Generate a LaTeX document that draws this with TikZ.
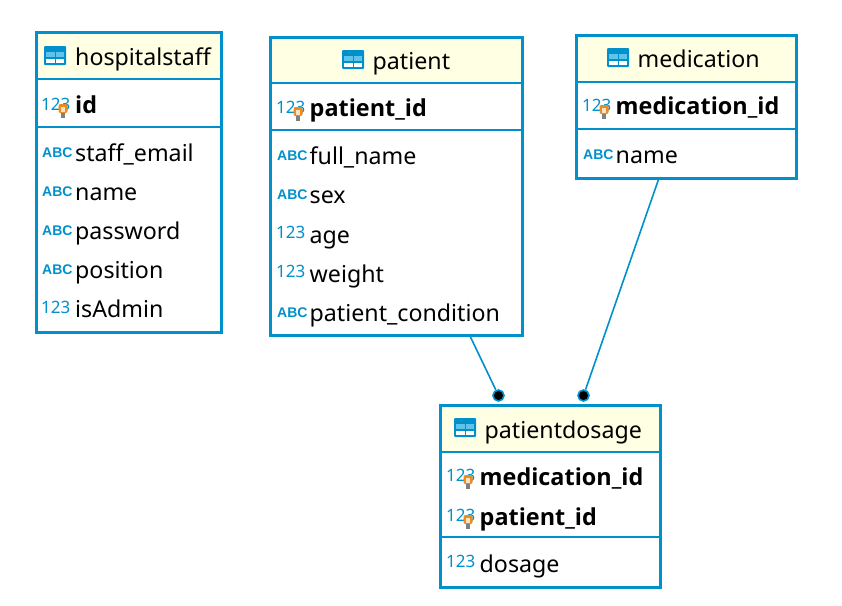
\documentclass[tikz,border=0pt]{standalone}
\usepackage{fontspec}
\setmainfont{Noto Sans}
\newfontfamily\iconfont{Liberation Sans}
\newfontfamily\keyfont{Open Sans}
\definecolor{erblue}{RGB}{0,145,205}
\definecolor{erhead}{RGB}{255,255,228}
\definecolor{erlight}{RGB}{95,195,235}
\definecolor{erkey}{RGB}{235,140,30}
\newcommand{\fsz}{\fontsize{23.2}{28}\selectfont}
\newcommand{\ksz}{\fontsize{23.4}{28}\selectfont}
\newcommand{\ifsz}{\fontsize{17}{20}\selectfont}
% table icon at left x, top y
\newcommand{\tblicon}[2]{%
  \begin{scope}[shift={(#1,#2)}]
    \fill[erblue,rounded corners=1pt] (0,0) rectangle (22,19);
    \fill[erlight] (2,6) rectangle (10.5,11);
    \fill[erlight] (11.5,6) rectangle (20,11);
    \fill[white] (2,12.5) rectangle (10.5,17);
    \fill[white] (11.5,12.5) rectangle (20,17);
  \end{scope}}
% key icon centred at x,y
\newcommand{\keyicon}[2]{%
  \begin{scope}[shift={(#1,#2)}]
    \fill[erkey,rounded corners=2pt] (-4.5,-6) rectangle (4.5,3);
    \fill[white!75!erkey] (-1.7,-3.5) rectangle (1.7,2);
    \fill[gray] (-1.7,3) rectangle (1.7,8);
  \end{scope}}
\newcommand{\numicon}[3]{\node[icontext,text=erblue] (#1) at (#2,#3) {\ifsz 123};}
\newcommand{\abcicon}[3]{\node[icontext,text=erblue,font=\iconfont\bfseries] (#1) at (#2,#3) {\fontsize{14}{16}\selectfont ABC};}
\tikzset{
  entity/.style={draw=erblue,line width=3pt},
  divider/.style={draw=erblue,line width=2.2pt},
  rowtext/.style={anchor=base west,inner sep=0pt,text=black,font=\fsz},
  keytext/.style={anchor=base west,inner sep=0pt,text=black,font=\keyfont\bfseries\ksz},
  icontext/.style={anchor=base west,inner sep=0pt},
  relation/.style={draw=erblue,line width=1.6pt},
  reldot/.style={circle,fill=black,draw=erblue,line width=1.6pt,inner sep=0pt,minimum size=11pt}
}
\begin{document}
\begin{tikzpicture}[x=1pt,y=-1pt]
\useasboundingbox (0,0) rectangle (842,605);
\fill[white] (0,0) rectangle (842,605);
% relations
\coordinate (relA) at (470,336);
\coordinate (relB) at (659,178);
\node[reldot] (dotA) at (498.5,395.5) {};
\node[reldot] (dotB) at (583.5,395.5) {};
\draw[relation] (relA) -- (dotA);
\draw[relation] (relB) -- (dotB);
% hospitalstaff
\fill[erhead] (36.5,32.5) rectangle (221,79);
\draw[entity] (36.5,32.5) rectangle (221,332);
\draw[divider] (37,79) -- (220,79);
\draw[divider] (37,127) -- (220,127);
\tblicon{44}{46}
\node[rowtext] (hstitle) at (75,65) {hospitalstaff};
\numicon{hsi1}{41}{110}\keyicon{63}{110}
\node[keytext] (hs1) at (75,113) {id};
\abcicon{hsi2}{42}{157}\node[rowtext] (hs2) at (75,161) {staff\_email};
\abcicon{hsi3}{42}{196}\node[rowtext] (hs3) at (75,200) {name};
\abcicon{hsi4}{42}{235}\node[rowtext] (hs4) at (75,239) {password};
\abcicon{hsi5}{42}{274}\node[rowtext] (hs5) at (75,278) {position};
\numicon{hsi6}{41}{313}\node[rowtext] (hs6) at (75,317) {isAdmin};
% patient
\fill[erhead] (270.5,37.5) rectangle (522,83);
\draw[entity] (270.5,37.5) rectangle (522,335);
\draw[divider] (271,83) -- (521,83);
\draw[divider] (271,130) -- (521,130);
\tblicon{342}{50}
\node[rowtext] (ptitle) at (372.5,69) {patient};
\numicon{pi1}{276}{113}\keyicon{298}{113}
\node[keytext] (p1) at (309.5,116) {patient\_id};
\abcicon{pi2}{277}{160}\node[rowtext] (p2) at (309.5,164) {full\_name};
\abcicon{pi3}{277}{199}\node[rowtext] (p3) at (309.5,203) {sex};
\numicon{pi4}{276}{238}\node[rowtext] (p4) at (309.5,243) {age};
\numicon{pi5}{276}{277}\node[rowtext] (p5) at (309.5,282) {weight};
\abcicon{pi6}{277}{317}\node[rowtext] (p6) at (309.5,321) {patient\_condition};
% medication
\fill[erhead] (576.5,35.5) rectangle (796,82);
\draw[entity] (576.5,35.5) rectangle (796,178);
\draw[divider] (577,82) -- (795,82);
\draw[divider] (577,129) -- (795,129);
\tblicon{607}{48}
\node[rowtext] (mtitle) at (637.5,67) {medication};
\numicon{mi1}{582}{111}\keyicon{604}{111}
\node[keytext] (m1) at (615.5,114) {medication\_id};
\abcicon{mi2}{583}{159}\node[rowtext] (m2) at (615.5,163) {name};
% patientdosage
\fill[erhead] (440.5,405.5) rectangle (660,452);
\draw[entity] (440.5,405.5) rectangle (660,587);
\draw[divider] (441,452) -- (659,452);
\draw[divider] (441,537) -- (659,537);
\tblicon{454}{418}
\node[rowtext] (dtitle) at (484.5,438) {patientdosage};
\numicon{di1}{446}{481}\keyicon{468}{481}
\node[keytext] (d1) at (479.5,485) {medication\_id};
\numicon{di2}{446}{521}\keyicon{468}{521}
\node[keytext] (d2) at (479.5,525) {patient\_id};
\numicon{di3}{446}{567}\node[rowtext] (d3) at (479.5,572) {dosage};
\end{tikzpicture}
\end{document}
